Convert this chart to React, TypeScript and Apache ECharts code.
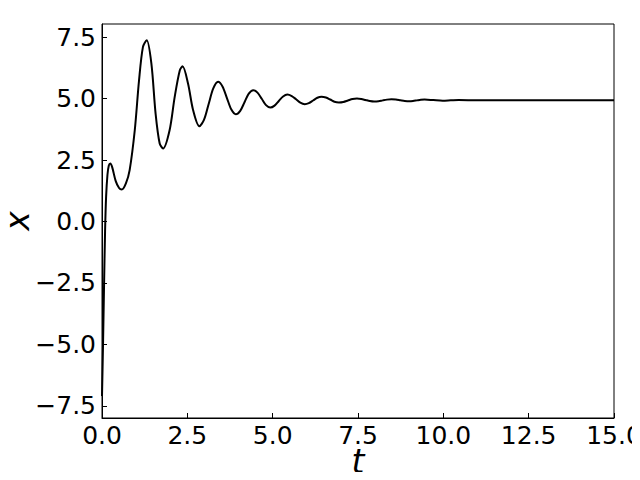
import React, { useEffect, useRef } from "react";
import * as echarts from "echarts";

const tValues: number[] = [
  0, 0.03, 0.06, 0.09, 0.12, 0.16, 0.2, 0.245, 0.3, 0.4, 0.5, 0.58, 0.7, 0.81,
  0.96, 1.085, 1.2, 1.31, 1.447, 1.57, 1.69, 1.79, 1.98, 2.13, 2.28, 2.36, 2.52,
  2.67, 2.85, 2.99, 3.125, 3.26, 3.4, 3.53, 3.66, 3.79, 3.92, 4.05, 4.175, 4.3,
  4.43, 4.555, 4.68, 4.805, 4.93, 5.055, 5.18, 5.305, 5.43, 5.56, 5.685, 5.81,
  5.94, 6.06, 6.185, 6.31, 6.43, 6.56, 6.685, 6.81, 6.94, 7.07, 7.205, 7.34,
  7.47, 7.595, 7.72, 7.845, 7.97, 8.1, 8.225, 8.35, 8.48, 8.61, 8.74, 8.87, 9.0,
  9.11, 9.225, 9.34, 9.45, 9.71, 9.98, 10.215, 10.45, 11.0, 11.5, 12.5, 15.0,
];
const xValues: number[] = [
  -7.1, -5.0, -2.6, -0.4, 1.0, 1.9, 2.28, 2.36, 2.2, 1.65, 1.36, 1.3, 1.55, 2.09,
  3.71, 5.74, 7.1, 7.37, 6.42, 4.39, 3.17, 2.97, 3.71, 5.07, 6.15, 6.31, 5.61,
  4.52, 3.87, 4.14, 4.78, 5.41, 5.68, 5.49, 5.02, 4.55, 4.36, 4.5, 4.85, 5.2,
  5.34, 5.24, 4.99, 4.73, 4.63, 4.71, 4.9, 5.08, 5.16, 5.1, 4.97, 4.83, 4.77,
  4.81, 4.92, 5.03, 5.07, 5.04, 4.96, 4.87, 4.84, 4.86, 4.92, 4.98, 5.0, 4.98,
  4.94, 4.9, 4.88, 4.89, 4.925, 4.955, 4.97, 4.958, 4.93, 4.902, 4.89, 4.9,
  4.925, 4.95, 4.96, 4.935, 4.91, 4.925, 4.94, 4.925, 4.93, 4.93, 4.93,
];
const yTicks: number[] = [-7.5, -5, -2.5, 0, 2.5, 5, 7.5];

const FONT = "DejaVu Sans";

export default function App() {
  const ref = useRef<HTMLDivElement>(null);
  useEffect(() => {
    if (!ref.current) return;
    const chart = echarts.init(ref.current, null, { renderer: "svg" });
    const fmt = (v: number) => {
      const s = Math.abs(v).toFixed(1);
      return v < 0 ? "\u2212" + s : s;
    };
    chart.setOption({
      animation: false,
      backgroundColor: "#ffffff",
      grid: {
        left: 102,
        right: 26,
        top: 24,
        bottom: 62,
        show: true,
        borderColor: "#000",
        borderWidth: 1,
        backgroundColor: "transparent",
        containLabel: false,
        outerBoundsMode: "none",
      },
      graphic: [
        {
          type: "text",
          x: 358,
          y: 461,
          style: {
            text: "t",
            fontFamily: FONT,
            fontSize: 33,
            lineHeight: 28,
            fontStyle: "italic",
            fill: "#000",
            align: "center",
            verticalAlign: "middle",
          },
        },
        {
          type: "text",
          x: 17,
          y: 221,
          rotation: Math.PI / 2,
          style: {
            text: "x",
            fontFamily: FONT,
            fontSize: 33,
            lineHeight: 28,
            fontStyle: "italic",
            fill: "#000",
            align: "center",
            verticalAlign: "middle",
          },
        },
      ],
      xAxis: {
        type: "value",
        min: 0,
        max: 15,
        interval: 2.5,
        axisLine: { show: true, onZero: false, lineStyle: { color: "#000", width: 1 } },
        axisTick: { show: true, inside: true, length: 5, lineStyle: { color: "#000" } },
        axisLabel: {
          fontFamily: FONT,
          fontSize: 25,
          lineHeight: 19,
          color: "#000",
          margin: 8,
          formatter: fmt,
        },
        splitLine: { show: false },
      },
      yAxis: {
        type: "value",
        min: -7.99,
        max: 8.03,
        axisLine: { show: true, onZero: false, lineStyle: { color: "#000", width: 1 } },
        axisTick: {
          show: true,
          inside: true,
          length: 5,
          customValues: yTicks,
          lineStyle: { color: "#000" },
        },
        axisLabel: {
          fontFamily: FONT,
          fontSize: 25,
          color: "#000",
          margin: 6,
          customValues: yTicks,
          formatter: fmt,
        },
        splitLine: { show: false },
      },
      series: [
        {
          type: "line",
          data: tValues.map((t, i) => [t, xValues[i]]),
          showSymbol: false,
          smooth: 0.3,
          lineStyle: { color: "#000", width: 2 },
          clip: true,
        },
      ],
    });
    return () => chart.dispose();
  }, []);
  return <div ref={ref} style={{ width: 640, height: 480, margin: -8 }} />;
}
